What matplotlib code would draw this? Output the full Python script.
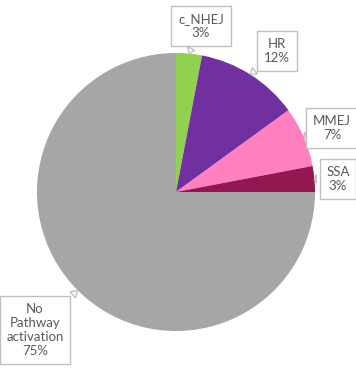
import numpy as np
import matplotlib
matplotlib.use("Agg")
import matplotlib.pyplot as plt

labels = ["c_NHEJ", "HR", "MMEJ", "SSA", "No\nPathway\nactivation"]
shares = [3, 12, 7, 3, 75]
colors = ["#92D050", "#7030A0", "#FF7FBF", "#951752", "#A6A6A6"]

# label box centres in pixel space (figure is 356x371)
box_px = [(201, 26), (277, 51), (332, 128), (338, 179), (35, 330)]

W, H = 356, 371
fig = plt.figure(figsize=(W / 100, H / 100), dpi=100)
cx, cy, r = 176, 192, 139
ax = fig.add_axes([(cx - r) / W, (H - cy - r) / H, 2 * r / W, 2 * r / H])

wedges, _ = ax.pie(shares, colors=colors, startangle=90, counterclock=False,
                   radius=1, wedgeprops=dict(linewidth=0))
ax.set_xlim(-1, 1)
ax.set_ylim(-1, 1)
ax.set_aspect("equal")
ax.axis("off")

total = sum(shares)
start = 90.0
for lab, val, (bx, by) in zip(labels, shares, box_px):
    span = val / total * 360
    mid = np.deg2rad(start - span / 2)
    start -= span
    tip = (np.cos(mid), np.sin(mid))
    txt = ((bx - cx) / r, (cy - by) / r)
    ax.annotate(f"{lab}\n{val}%", xy=tip, xytext=txt,
                ha="center", va="center", fontsize=9.5, family="Lato",
                color="#595959", linespacing=1.2, annotation_clip=False,
                bbox=dict(boxstyle="square,pad=0.5", fc="white", ec="#BFBFBF", lw=1),
                arrowprops=dict(arrowstyle="wedge,tail_width=0.6,shrink_factor=0.5",
                                fc="white", ec="#BFBFBF", lw=1, shrinkB=0))

fig.savefig("out.png", dpi=100)
